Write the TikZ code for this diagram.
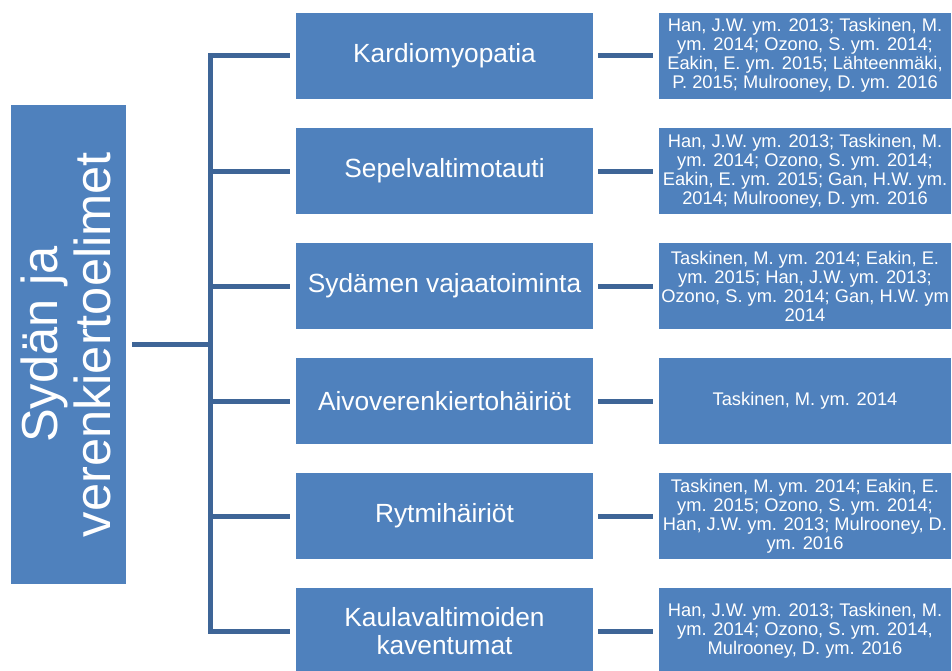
\documentclass[tikz,border=0pt]{standalone}
\usepackage{fontspec}
\setmainfont{Liberation Sans}
\definecolor{boxblue}{HTML}{4F81BD}
\definecolor{linkblue}{HTML}{3E6597}
\tikzset{
  rootbox/.style={fill=boxblue, draw=none, minimum width=115pt, minimum height=479pt, inner sep=0pt},
  roottext/.style={text=white, rotate=90, align=center, inner sep=0pt,
    font=\fontsize{50.6}{53}\selectfont},
  midbox/.style={fill=boxblue, draw=none, minimum width=297pt, minimum height=86pt, inner sep=0pt,
    text=white, align=center, font=\fontsize{26.3}{28.5}\selectfont},
  refbox/.style={fill=boxblue, draw=none, minimum width=292pt, minimum height=86pt, inner sep=0pt,
    text=white, align=center, font=\fontsize{18.3}{19}\selectfont},
  link/.style={draw=linkblue, line width=5pt}
}
\begin{document}
\begin{tikzpicture}[x=1pt, y=-1pt]
\useasboundingbox (0,0) rectangle (952,670);

% root topic
\node[rootbox] (root) at (68.5,344.5) {};
\node[roottext] (rootlabel) at (66,344.5) {Sydän ja\\verenkiertoelimet};

% disease boxes
\node[midbox] (m1) at (444.5,55.5) {Kardiomyopatia};
\node[midbox] (m2) at (444.5,171) {Sepelvaltimotauti};
\node[midbox] (m3) at (444.5,286) {Sydämen vajaatoiminta};
\node[midbox] (m4) at (444.5,401) {Aivoverenkiertohäiriöt};
\node[midbox] (m5) at (444.5,516) {Rytmihäiriöt};
\node[midbox] (m6) at (444.5,631) {Kaulavaltimoiden\\kaventumat};

% reference boxes
\node[refbox] (r1) at (805,55.5) {Han, J.W. ym. 2013; Taskinen, M.\\ym. 2014; Ozono, S. ym. 2014;\\Eakin, E. ym. 2015; Lähteenmäki,\\P. 2015; Mulrooney, D. ym. 2016};
\node[refbox] (r2) at (805,171) {Han, J.W. ym. 2013; Taskinen, M.\\ym. 2014; Ozono, S. ym. 2014;\\Eakin, E. ym. 2015; Gan, H.W. ym.\\2014; Mulrooney, D. ym. 2016};
\node[refbox] (r3) at (805,286) {Taskinen, M. ym. 2014; Eakin, E.\\ym. 2015; Han, J.W. ym. 2013;\\Ozono, S. ym. 2014; Gan, H.W. ym\\2014};
\node[refbox] (r4) at (805,401) {Taskinen, M. ym. 2014};
\node[refbox] (r5) at (805,516) {Taskinen, M. ym. 2014; Eakin, E.\\ym. 2015; Ozono, S. ym. 2014;\\Han, J.W. ym. 2013; Mulrooney, D.\\ym. 2016};
\node[refbox] (r6) at (805,631) {Han, J.W. ym. 2013; Taskinen, M.\\ym. 2014; Ozono, S. ym. 2014,\\Mulrooney, D. ym. 2016};

% tree connectors
\coordinate (bus) at (210,344.5);
\draw[link] ([xshift=6pt]root.east) -- (bus);
\draw[link] ([xshift=-6pt]m1.west) -| (bus) |- ([xshift=-6pt]m6.west);
\foreach \i in {2,3,4,5}{
  \draw[link] ([xshift=-6pt]m\i.west) -- (bus |- m\i.west);
}
\foreach \i in {1,...,6}{
  \draw[link] ([xshift=5pt]m\i.east) -- ([xshift=-6pt]r\i.west);
}
\end{tikzpicture}
\end{document}
